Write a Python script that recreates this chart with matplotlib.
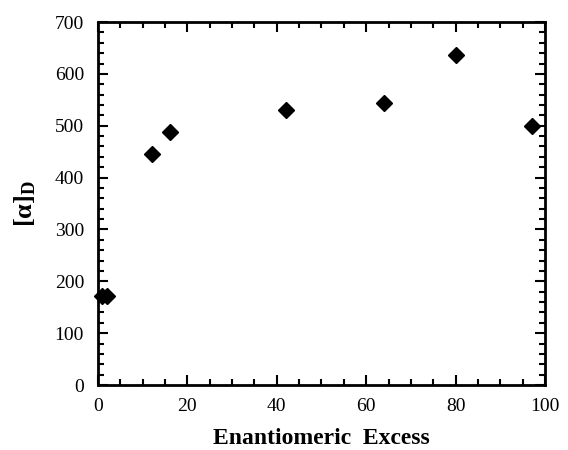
import numpy as np
from matplotlib import pyplot as plt
from matplotlib.ticker import MultipleLocator

plt.rcParams["font.family"] = "Liberation Serif"
plt.rcParams["mathtext.fontset"] = "custom"
plt.rcParams["mathtext.rm"] = "Liberation Serif"
plt.rcParams["mathtext.bf"] = "Liberation Serif:bold"

# enantiomeric excess vs specific rotation
ee = [1, 2, 12, 16, 42, 64, 80, 97]
alpha_d = [172, 172, 445, 487, 530, 543, 637, 500]

fig = plt.figure(figsize=(5.68, 4.5), dpi=100)
ax = fig.add_axes([0.1725, 0.1444, 0.787, 0.8066])

ax.plot(ee, alpha_d, linestyle='', marker='D', markersize=8,
        color='black', clip_on=False, zorder=4)

ax.set_xlim(0, 100)
ax.set_ylim(0, 700)
ax.xaxis.set_major_locator(MultipleLocator(20))
ax.xaxis.set_minor_locator(MultipleLocator(5))
ax.yaxis.set_major_locator(MultipleLocator(100))
ax.yaxis.set_minor_locator(MultipleLocator(20))

ax.tick_params(which='both', direction='in', top=True, right=True,
               width=1.5, labelsize=14)
ax.tick_params(which='major', length=7)
ax.tick_params(which='minor', length=4)
ax.tick_params(axis='x', which='major', pad=9)
ax.tick_params(axis='y', which='major', pad=10)
for s in ax.spines.values():
    s.set_linewidth(2)

ax.set_xlabel('Enantiomeric  Excess', fontsize=17, fontweight='bold', labelpad=10)
ax.set_ylabel(r'$\mathbf{[\alpha]_D}$', fontsize=19, labelpad=12)

plt.savefig('out.png', dpi=100)
